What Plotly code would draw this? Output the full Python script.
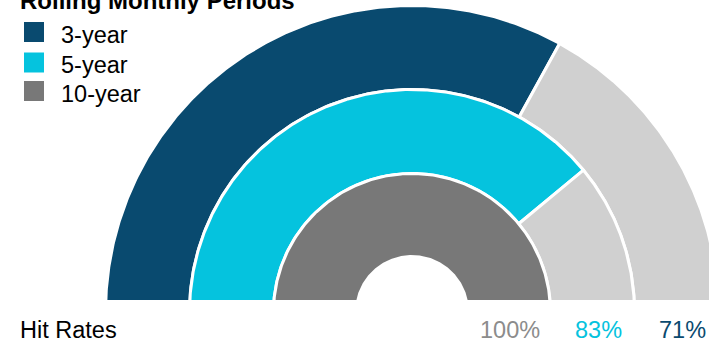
import numpy as np
import plotly.graph_objects as go

# ---- data ----
periods = ["3-year", "5-year", "10-year"]
arc_share_pct = [66, 78, 100]          # share of each half ring that is filled, as drawn
hit_rate_labels = ["71%", "83%", "100%"]
legend_title = "Rolling Monthly Periods"
footer_label = "Hit Rates"

# ---- style ----
series_colors = ["#094A6F", "#05C3DE", "#787878"]
remainder_color = "#D0D0D0"
label_colors = ["#0B4A6F", "#05C3DE", "#8C8C8C"]
FONT = "Arial, Liberation Sans, sans-serif"
FS_TITLE = 24
FS = 23.5

W, H = 709, 341
PLOT_H = 300                     # plot area height (rings clipped at its bottom)
CX, CY = 412, 312                # ring centre in pixels from top-left
ring_edges = [(222.5, 306.5), (138.5, 222.5), (55.5, 138.5)]   # outer, middle, inner ring
label_x_px = [682, 598, 510]
legend_top_px = [22, 52.5, 81]


def band(r0, r1, a0, a1, n=300):
    t = np.radians(np.linspace(a0, a1, n))
    xs = np.concatenate([r1 * np.cos(t), r0 * np.cos(t[::-1])])
    ys = np.concatenate([r1 * np.sin(t), r0 * np.sin(t[::-1])])
    return np.append(xs, xs[0]), np.append(ys, ys[0])


def px(x):
    return x / W


def py(y):
    return 1 - y / PLOT_H


fig = go.Figure()
for name, share, color, (r0, r1) in zip(periods, arc_share_pct, series_colors, ring_edges):
    split = 180 - share / 100 * 180
    xs, ys = band(r0, r1, 180, split)
    fig.add_trace(go.Scatter(x=xs, y=ys, fill="toself", fillcolor=color, mode="lines",
                             line=dict(color="white", width=3), name=name,
                             hoverinfo="skip", showlegend=False))
    if share < 100:
        xs, ys = band(r0, r1, split, 0)
        fig.add_trace(go.Scatter(x=xs, y=ys, fill="toself", fillcolor=remainder_color,
                                 mode="lines", line=dict(color="white", width=3),
                                 hoverinfo="skip", showlegend=False))

annotations = [
    dict(text="<b>" + legend_title + "</b>", x=px(18), y=py(1), xanchor="left",
         yanchor="middle", font=dict(size=FS_TITLE, color="#000000")),
    dict(text=footer_label, x=px(18), y=py(329.5), xanchor="left", yanchor="middle",
         font=dict(size=FS, color="#000000")),
]
shapes = []
for name, color, top in zip(periods, series_colors, legend_top_px):
    shapes.append(dict(type="rect", xref="paper", yref="paper", x0=px(24), x1=px(44),
                       y0=py(top + 20), y1=py(top), fillcolor=color, line=dict(width=0)))
    annotations.append(dict(text=name, x=px(59), y=py(top + 13), xanchor="left",
                            yanchor="middle", font=dict(size=FS, color="#000000")))
for lab, lx, lc in zip(hit_rate_labels, label_x_px, label_colors):
    annotations.append(dict(text=lab, x=px(lx), y=py(329.5), xanchor="center",
                            yanchor="middle", font=dict(size=FS, color=lc)))
for a in annotations:
    a.update(xref="paper", yref="paper", showarrow=False)

fig.update_layout(
    width=W, height=H,
    margin=dict(l=0, r=0, t=0, b=H - PLOT_H, pad=0),
    paper_bgcolor="white", plot_bgcolor="white",
    font=dict(family=FONT),
    xaxis=dict(range=[-CX, W - CX], visible=False, fixedrange=True),
    yaxis=dict(range=[CY - PLOT_H, CY], visible=False, fixedrange=True),
    annotations=annotations, shapes=shapes,
    showlegend=False,
)
fig.write_html("out.html", config={"displayModeBar": False})
